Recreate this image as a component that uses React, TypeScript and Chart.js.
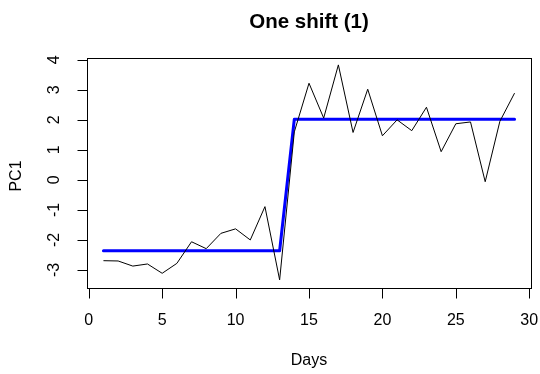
import React, { useEffect, useRef } from "react";
import { Chart, registerables } from "chart.js";

Chart.register(...registerables);

// Observed first principal component by day, with the fitted one-shift step model
const days = [1, 2, 3, 4, 5, 6, 7, 8, 9, 10, 11, 12, 13, 14, 15, 16, 17, 18, 19, 20, 21, 22, 23, 24, 25, 26, 27, 28, 29];
const pc1 = [
  -2.69, -2.7, -2.87, -2.8, -3.11, -2.78, -2.06, -2.29, -1.78, -1.63, -2.0, -0.89, -3.33,
  1.6, 3.22, 2.06, 3.83, 1.58, 3.02, 1.47, 2.0, 1.64, 2.42, 0.94, 1.87, 1.93, -0.06, 1.95, 2.89,
];
const fitted = [
  -2.36, -2.36, -2.36, -2.36, -2.36, -2.36, -2.36, -2.36, -2.36, -2.36, -2.36, -2.36, -2.36,
  2.02, 2.02, 2.02, 2.02, 2.02, 2.02, 2.02, 2.02, 2.02, 2.02, 2.02, 2.02, 2.02, 2.02, 2.02, 2.02,
];
const xTicks = [0, 5, 10, 15, 20, 25, 30];
const yTicks = [-3, -2, -1, 0, 1, 2, 3, 4];

const chartTitle = "One shift (1)";
const xTitle = "Days";
const yTitle = "PC1";

const FONT = '"Liberation Sans", Arial, sans-serif';

// Draws the R-style box, outside tick marks, rotated y labels and titles
const baseGraphics = {
  id: "baseGraphics",
  afterDraw(chart: any) {
    const { ctx, chartArea, scales } = chart;
    const xs = scales.x;
    const ys = scales.y;
    const L = Math.round(chartArea.left) + 0.5;
    const R = Math.round(chartArea.right) + 0.5;
    const T = Math.round(chartArea.top) + 0.5;
    const B = Math.round(chartArea.bottom) + 0.5;
    const tick = 10;

    ctx.save();
    ctx.strokeStyle = "#000";
    ctx.lineWidth = 1;
    ctx.strokeRect(L, T, R - L, B - T);

    // x axis
    ctx.beginPath();
    const x0 = Math.round(xs.getPixelForValue(xTicks[0])) + 0.5;
    const x1 = Math.round(xs.getPixelForValue(xTicks[xTicks.length - 1])) + 0.5;
    ctx.moveTo(x0, B);
    ctx.lineTo(x1, B);
    xTicks.forEach((v) => {
      const px = Math.round(xs.getPixelForValue(v)) + 0.5;
      ctx.moveTo(px, B);
      ctx.lineTo(px, B + tick);
    });
    // y axis
    const y0 = Math.round(ys.getPixelForValue(yTicks[0])) + 0.5;
    const y1 = Math.round(ys.getPixelForValue(yTicks[yTicks.length - 1])) + 0.5;
    ctx.moveTo(L, y0);
    ctx.lineTo(L, y1);
    yTicks.forEach((v) => {
      const py = Math.round(ys.getPixelForValue(v)) + 0.5;
      ctx.moveTo(L, py);
      ctx.lineTo(L - tick, py);
    });
    ctx.stroke();

    ctx.fillStyle = "#000";
    ctx.font = `16px ${FONT}`;
    ctx.textAlign = "center";
    ctx.textBaseline = "middle";
    xTicks.forEach((v) => {
      ctx.fillText(String(v), xs.getPixelForValue(v), 321);
    });
    yTicks.forEach((v) => {
      ctx.save();
      ctx.translate(54, ys.getPixelForValue(v));
      ctx.rotate(-Math.PI / 2);
      ctx.fillText(String(v), 0, 1);
      ctx.restore();
    });

    ctx.fillText(xTitle, (chartArea.left + chartArea.right) / 2, 361);
    ctx.save();
    ctx.translate(17, 176);
    ctx.rotate(-Math.PI / 2);
    ctx.fillText(yTitle, 0, 0);
    ctx.restore();

    ctx.font = `bold 20.5px ${FONT}`;
    ctx.fillText(chartTitle, (chartArea.left + chartArea.right) / 2, 22);
    ctx.restore();
  },
};

export default function App() {
  const canvasRef = useRef<HTMLCanvasElement | null>(null);

  useEffect(() => {
    if (!canvasRef.current) return;
    const chart = new Chart(canvasRef.current, {
      type: "line",
      data: {
        datasets: [
          {
            label: yTitle,
            data: days.map((d, i) => ({ x: d, y: pc1[i] })),
            borderColor: "#000",
            borderWidth: 1,
            pointRadius: 0,
            tension: 0,
            fill: false,
          },
          {
            label: "Fitted",
            data: days.map((d, i) => ({ x: d, y: fitted[i] })),
            borderColor: "#0000ff",
            borderWidth: 3,
            borderCapStyle: "round",
            borderJoinStyle: "round",
            pointRadius: 0,
            tension: 0,
            fill: false,
          },
        ],
      },
      options: {
        responsive: false,
        animation: false,
        devicePixelRatio: 1,
        layout: { padding: { left: 87, right: 9, top: 58, bottom: 86 } },
        plugins: {
          legend: { display: false },
          tooltip: { enabled: false },
          title: { display: false },
        },
        scales: {
          x: { type: "linear", min: -0.12, max: 30.12, display: false },
          y: { type: "linear", min: -3.6, max: 4.06, display: false },
        },
      },
      plugins: [baseGraphics],
    });
    return () => chart.destroy();
  }, []);

  return (
    <div style={{ position: "fixed", left: 0, top: 0, width: 540, height: 374, background: "#fff" }}>
      <canvas ref={canvasRef} width={540} height={374} style={{ display: "block" }} />
    </div>
  );
}
